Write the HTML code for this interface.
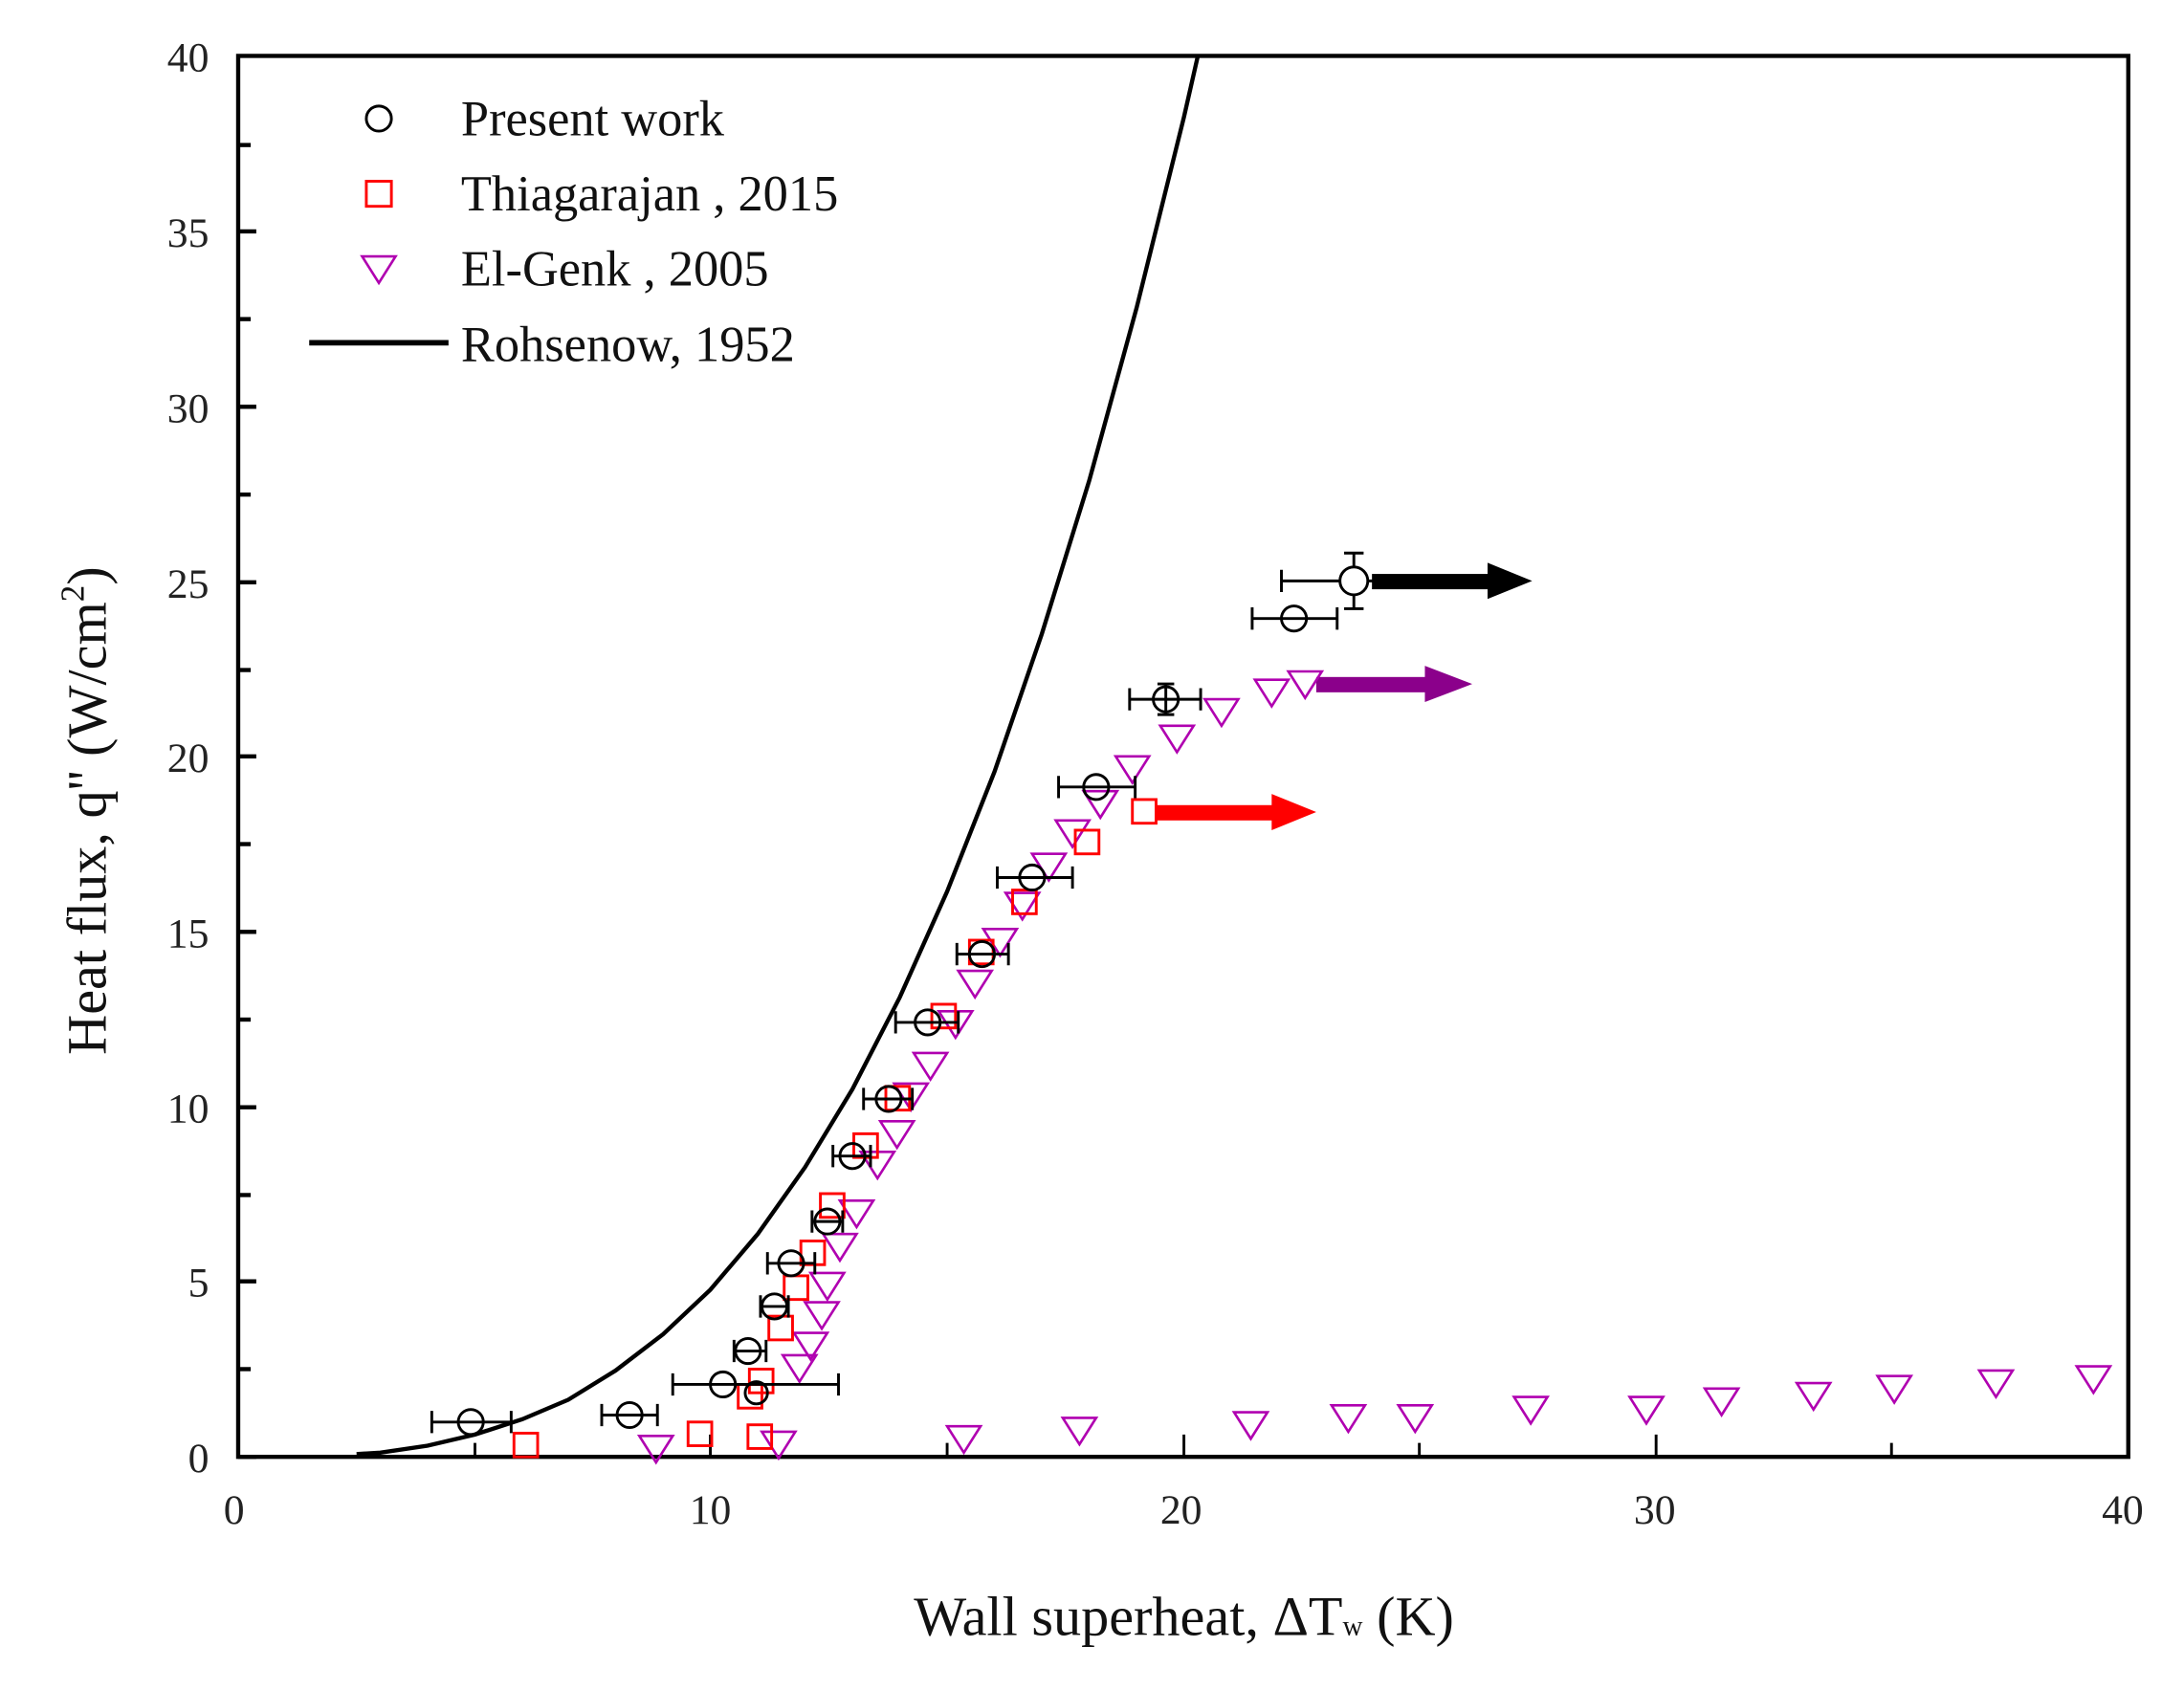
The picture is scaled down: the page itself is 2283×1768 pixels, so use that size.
<!DOCTYPE html>
<html><head><meta charset="utf-8"><style>html,body{margin:0;padding:0;background:#fff}svg{display:block}</style></head>
<body>
<svg xmlns="http://www.w3.org/2000/svg" width="2283" height="1768" viewBox="0 0 1568 1214" font-family="Liberation Serif, serif">
<defs>
<symbol id="tri" viewBox="-13 -10 26 20" overflow="visible"><polygon points="-12,-9 12,-9 0,10" fill="none" stroke="#b000b0" stroke-width="1.8"/></symbol>
</defs>
<rect x="0" y="0" width="1568" height="1214" fill="#fff"/>
<rect x="171" y="40" width="1357" height="1006" fill="none" stroke="#000" stroke-width="3"/>
<g stroke="#000" stroke-width="3">
<line x1="171" x2="184" y1="1046" y2="1046"/><line x1="171" x2="180" y1="983" y2="983"/>
<line x1="171" x2="184" y1="920" y2="920"/><line x1="171" x2="180" y1="858" y2="858"/>
<line x1="171" x2="184" y1="795" y2="795"/><line x1="171" x2="180" y1="732" y2="732"/>
<line x1="171" x2="184" y1="669" y2="669"/><line x1="171" x2="180" y1="606" y2="606"/>
<line x1="171" x2="184" y1="543" y2="543"/><line x1="171" x2="180" y1="481" y2="481"/>
<line x1="171" x2="184" y1="418" y2="418"/><line x1="171" x2="180" y1="355" y2="355"/>
<line x1="171" x2="184" y1="292" y2="292"/><line x1="171" x2="180" y1="229" y2="229"/>
<line x1="171" x2="184" y1="166" y2="166"/><line x1="171" x2="180" y1="104" y2="104"/>
</g>
<g stroke="#000" stroke-width="2">
<line x1="341" x2="341" y1="1046" y2="1036"/><line x1="510" x2="510" y1="1046" y2="1030"/>
<line x1="680" x2="680" y1="1046" y2="1036"/><line x1="850" x2="850" y1="1046" y2="1030"/>
<line x1="1019" x2="1019" y1="1046" y2="1036"/><line x1="1189" x2="1189" y1="1046" y2="1030"/>
<line x1="1358" x2="1358" y1="1046" y2="1036"/>
</g>
<g font-size="30" fill="#222" text-anchor="end">
<text x="150" y="1057">0</text><text x="150" y="931">5</text><text x="150" y="806">10</text>
<text x="150" y="680">15</text><text x="150" y="554">20</text><text x="150" y="429">25</text>
<text x="150" y="303">30</text><text x="150" y="177">35</text><text x="150" y="51">40</text>
</g>
<g font-size="30" fill="#222" text-anchor="middle">
<text x="168" y="1094">0</text><text x="510" y="1094">10</text><text x="848" y="1094">20</text>
<text x="1188" y="1094">30</text><text x="1524" y="1094">40</text>
</g>
<text x="850" y="1174" font-size="40" text-anchor="middle" fill="#111">Wall superheat, ΔT<tspan font-size="20">w</tspan> (K)</text>
<text transform="translate(76,582) rotate(-90)" font-size="40" text-anchor="middle" fill="#111">Heat flux, q'' (W/cm<tspan font-size="24" dy="-16">2</tspan><tspan dy="16">)</tspan></text>
<polyline fill="none" stroke="#000" stroke-width="3" points="256,1044 273,1043 307,1038 341,1030 375,1019 408,1005 442,984 476,958 510,926 544,886 578,838 612,782 646,716 680,640 714,554 748,455 782,345 816,221 850,84 860,40"/>
<circle cx="272" cy="85" r="9" fill="none" stroke="#000" stroke-width="2"/>
<text x="331" y="97" font-size="36" fill="#111">Present work</text>
<rect x="263" y="130" width="18" height="18" fill="none" stroke="#f00" stroke-width="2"/>
<text x="331" y="151" font-size="36" fill="#111">Thiagarajan , 2015</text>
<use href="#tri" x="259" y="183" width="26" height="20"/>
<text x="331" y="205" font-size="36" fill="#111">El-Genk , 2005</text>
<line x1="222" x2="322" y1="246" y2="246" stroke="#000" stroke-width="4"/>
<text x="331" y="259" font-size="36" fill="#111">Rohsenow, 1952</text>
<g>
<rect x="985" y="412" width="85" height="11" fill="#000"/><polygon points="1068,404 1100,417 1068,430" fill="#000"/>
<rect x="945" y="486" width="80" height="11" fill="#8b008b"/><polygon points="1023,478 1057,491 1023,504" fill="#8b008b"/>
<rect x="830" y="578" width="85" height="11" fill="#f00"/><polygon points="913,570 945,583 913,596" fill="#f00"/>
</g>
<g>
<use href="#tri" x="458" y="1030" width="26" height="20"/><use href="#tri" x="546" y="1027" width="26" height="20"/>
<use href="#tri" x="679" y="1023" width="26" height="20"/><use href="#tri" x="762" y="1017" width="26" height="20"/>
<use href="#tri" x="885" y="1013" width="26" height="20"/><use href="#tri" x="955" y="1008" width="26" height="20"/>
<use href="#tri" x="1003" y="1008" width="26" height="20"/><use href="#tri" x="1086" y="1002" width="26" height="20"/>
<use href="#tri" x="1169" y="1002" width="26" height="20"/><use href="#tri" x="1223" y="996" width="26" height="20"/>
<use href="#tri" x="1289" y="992" width="26" height="20"/><use href="#tri" x="1347" y="987" width="26" height="20"/>
<use href="#tri" x="1420" y="983" width="26" height="20"/><use href="#tri" x="1490" y="980" width="26" height="20"/>
<use href="#tri" x="561" y="972" width="26" height="20"/><use href="#tri" x="569" y="956" width="26" height="20"/>
<use href="#tri" x="577" y="934" width="26" height="20"/><use href="#tri" x="581" y="913" width="26" height="20"/>
<use href="#tri" x="590" y="885" width="26" height="20"/><use href="#tri" x="602" y="861" width="26" height="20"/>
<use href="#tri" x="617" y="826" width="26" height="20"/><use href="#tri" x="631" y="804" width="26" height="20"/>
<use href="#tri" x="641" y="777" width="26" height="20"/><use href="#tri" x="655" y="755" width="26" height="20"/>
<use href="#tri" x="673" y="725" width="26" height="20"/><use href="#tri" x="687" y="696" width="26" height="20"/>
<use href="#tri" x="705" y="666" width="26" height="20"/><use href="#tri" x="721" y="640" width="26" height="20"/>
<use href="#tri" x="740" y="612" width="26" height="20"/><use href="#tri" x="757" y="588" width="26" height="20"/>
<use href="#tri" x="777" y="567" width="26" height="20"/><use href="#tri" x="800" y="542" width="26" height="20"/>
<use href="#tri" x="832" y="520" width="26" height="20"/><use href="#tri" x="864" y="501" width="26" height="20"/>
<use href="#tri" x="900" y="487" width="26" height="20"/><use href="#tri" x="924" y="481" width="26" height="20"/>
</g>
<g fill="none" stroke="#f00" stroke-width="2">
<rect x="369" y="1029" width="17" height="17"/><rect x="494" y="1021" width="17" height="17"/>
<rect x="537" y="1023" width="17" height="17"/><rect x="530" y="994" width="17" height="17"/>
<rect x="538" y="983" width="17" height="17"/><rect x="552" y="945" width="17" height="17"/>
<rect x="563" y="916" width="17" height="17"/><rect x="575" y="891" width="17" height="17"/>
<rect x="589" y="857" width="17" height="17"/><rect x="613" y="814" width="17" height="17"/>
<rect x="636" y="780" width="17" height="17"/><rect x="669" y="721" width="17" height="17"/>
<rect x="696" y="675" width="17" height="17"/><rect x="727" y="639" width="17" height="17"/>
<rect x="772" y="596" width="17" height="17"/><rect x="813" y="574" width="17" height="17"/>
</g>
<g fill="none" stroke="#000" stroke-width="2">
<path d="M310,1021H367M310,1013V1029M367,1013V1029"/><circle cx="338" cy="1021" r="9"/>
<path d="M432,1016H472M432,1008V1024M472,1008V1024"/><circle cx="452" cy="1016" r="9"/>
<path d="M483,994H602M483,986V1002M602,986V1002"/><circle cx="519" cy="994" r="9"/>
<circle cx="543" cy="1000" r="8"/>
<path d="M527,970H550M527,962V978M550,962V978"/><circle cx="537" cy="970" r="9"/>
<path d="M546,938H566M546,930V946M566,930V946"/><circle cx="556" cy="938" r="9"/>
<path d="M551,907H585M551,899V915M585,899V915"/><circle cx="568" cy="907" r="9"/>
<path d="M583,877H605M583,869V885M605,869V885"/><circle cx="594" cy="877" r="9"/>
<path d="M598,830H625M598,822V838M625,822V838"/><circle cx="612" cy="830" r="9"/>
<path d="M620,789H655M620,781V797M655,781V797"/><circle cx="638" cy="789" r="9"/>
<path d="M643,734H688M643,726V742M688,726V742"/><circle cx="666" cy="734" r="9"/>
<path d="M687,685H724M687,677V693M724,677V693"/><circle cx="705" cy="685" r="9"/>
<path d="M716,630H770M716,622V638M770,622V638"/><circle cx="741" cy="630" r="9"/>
<path d="M760,565H815M760,557V573M815,557V573"/><circle cx="787" cy="565" r="9"/>
<path d="M811,502H862M811,494V510M862,494V510M837,491V513M831,491H843M831,513H843"/><circle cx="837" cy="502" r="9"/>
<path d="M899,444H960M899,436V452M960,436V452"/><circle cx="929" cy="444" r="9"/>
<path d="M920,417H1022M920,409V425M972,397V437M965,397H979M965,437H979"/><circle cx="972" cy="417" r="10" fill="#fff"/>
</g>
</svg>
</body></html>
